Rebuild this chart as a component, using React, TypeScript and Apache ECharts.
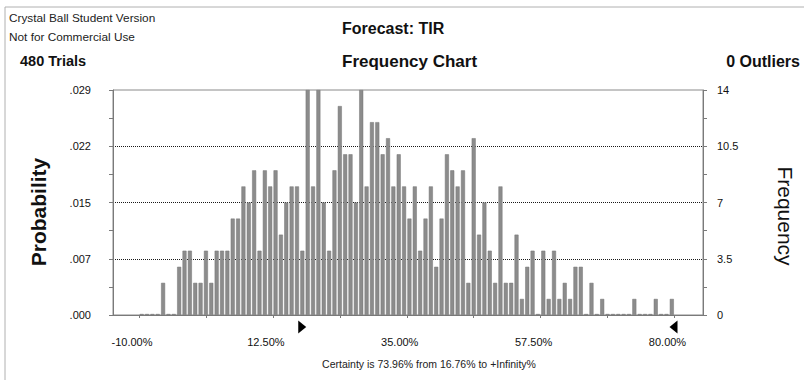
import React, { useEffect, useRef } from 'react';
import * as echarts from 'echarts';

// Histogram bins: 100 cells of 0.9% from -10% to 80%
const binStart = -10;
const binWidth = 0.9;
const counts = [
  0, 0, 0, 0, 2, 0, 0, 3, 4, 4,
  2, 2, 4, 2, 4, 4, 4, 6, 6, 8,
  7, 9, 4, 9, 8, 9, 5, 7, 8, 8,
  4, 14, 8, 14, 7, 4, 9, 13, 10, 10,
  7, 14, 8, 12, 12, 10, 11, 8, 10, 8,
  6, 8, 4, 6, 8, 3, 6, 10, 9, 8,
  9, 2, 11, 5, 7, 4, 2, 8, 2, 2,
  5, 1, 3, 4, 0, 4, 1, 4, 1, 2,
  1, 3, 3, 0, 2, 0, 1, 0, 0, 0,
  0, 0, 1, 0, 0, 0, 1, 0, 0, 1,
];

const xLabelValues = [-10, 12.5, 35, 57.5, 80];
const xTickLabels = ['-10.00%', '12.50%', '35.00%', '57.50%', '80.00%'];
const xTickValues = [-10, 1.25, 12.5, 23.75, 35, 46.25, 57.5, 68.75, 80];
const freqLabels = ['0', '3.5', '7', '10.5', '14'];
const probLabels = ['.000', '.007', '.015', '.022', '.029'];
const certaintyBounds = [16.76, 80];

const FONT = '"Liberation Sans", Arial, sans-serif';

export default function App() {
  const ref = useRef<HTMLDivElement>(null);
  useEffect(() => {
    document.body.style.margin = '0';
    const chart = echarts.init(ref.current!, undefined, { renderer: 'svg' });
    const barData = counts.map((c, j) => [binStart + binWidth * (j + 0.5), c]);
    const yLabel = (labels: string[]) => (v: number) => labels[Math.round(v / 3.5)] ?? '';
    const axisGray = '#7a7a7a';
    chart.setOption({
      animation: false,
      backgroundColor: '#ffffff',
      textStyle: { fontFamily: FONT },
      grid: {
        left: 113, top: 90, width: 590, height: 225,
        show: true, borderColor: '#8a8a8a', borderWidth: 1, backgroundColor: 'transparent',
      },
      xAxis: {
        type: 'value', min: -14.37, max: 84.79,
        axisLine: { show: true, onZero: false, lineStyle: { color: axisGray } },
        axisTick: { show: true, customValues: xTickValues, length: 3, lineStyle: { color: axisGray } },
        axisLabel: {
          customValues: xLabelValues, margin: 21, color: '#111', fontSize: 11, fontFamily: FONT,
          padding: [0, 14, 0, 0],
          formatter: (v: number) => xTickLabels[xLabelValues.indexOf(v)] ?? '',
        },
        splitLine: { show: false },
      },
      yAxis: [
        {
          type: 'value', min: 0, max: 14, interval: 3.5, position: 'left',
          axisLine: { show: true, onZero: false, lineStyle: { color: axisGray } },
          axisTick: { show: true, length: 4, lineStyle: { color: axisGray } },
          minorTick: { show: true, splitNumber: 2, length: 4, lineStyle: { color: axisGray } },
          axisLabel: { margin: 22, color: '#111', fontSize: 11, fontFamily: FONT, formatter: yLabel(probLabels) },
          splitLine: { show: true, showMinLine: false, showMaxLine: false, lineStyle: { color: '#1a1a1a', type: 'dotted', width: 1 } },
        },
        {
          type: 'value', min: 0, max: 14, interval: 3.5, position: 'right',
          axisLine: { show: true, onZero: false, lineStyle: { color: axisGray } },
          axisTick: { show: true, length: 4, lineStyle: { color: axisGray } },
          minorTick: { show: true, splitNumber: 2, length: 4, lineStyle: { color: axisGray } },
          axisLabel: { margin: 14, color: '#111', fontSize: 11, fontFamily: FONT, formatter: yLabel(freqLabels) },
          splitLine: { show: false },
        },
      ],
      series: [
        {
          type: 'bar', data: barData, barWidth: 4, barMinHeight: 1,
          itemStyle: { color: '#8c8c8c', borderColor: '#747474', borderWidth: 0.5 },
          markPoint: {
            silent: true,
            label: { show: false },
            data: [
              { coord: [certaintyBounds[0], 0], symbol: 'triangle', symbolSize: [13, 8], symbolRotate: -90, symbolOffset: [4, 12], itemStyle: { color: '#000' } },
              { coord: [certaintyBounds[1], 0], symbol: 'triangle', symbolSize: [13, 8], symbolRotate: 90, symbolOffset: [-1, 12], itemStyle: { color: '#000' } },
            ],
          },
        },
      ],
      graphic: [
        { type: 'line', shape: { x1: 5, y1: 7, x2: 804, y2: 7 }, style: { stroke: '#b0b0b0', lineWidth: 1 } },
        { type: 'line', shape: { x1: 5, y1: 7, x2: 5, y2: 380 }, style: { stroke: '#b0b0b0', lineWidth: 1 } },
        { type: 'text', x: 9, y: 18, style: { text: 'Crystal Ball Student Version', font: `11.8px ${FONT}`, fill: '#222', verticalAlign: 'middle' } },
        { type: 'text', x: 9, y: 37, style: { text: 'Not for Commercial Use', font: `11.8px ${FONT}`, fill: '#222', verticalAlign: 'middle' } },
        { type: 'text', x: 342, y: 28, style: { text: 'Forecast: TIR', font: `bold 16px ${FONT}`, fill: '#111', verticalAlign: 'middle' } },
        { type: 'text', x: 20, y: 61, style: { text: '480 Trials', font: `bold 14.5px ${FONT}`, fill: '#111', verticalAlign: 'middle' } },
        { type: 'text', x: 342, y: 61, style: { text: 'Frequency Chart', font: `bold 17px ${FONT}`, fill: '#111', verticalAlign: 'middle' } },
        { type: 'text', x: 800, y: 61, style: { text: '0 Outliers', font: `bold 16px ${FONT}`, fill: '#111', align: 'right', verticalAlign: 'middle' } },
        { type: 'text', x: 38, y: 212, rotation: Math.PI / 2, style: { text: 'Probability', font: `bold 21px ${FONT}`, fill: '#111', align: 'center', verticalAlign: 'middle' } },
        { type: 'text', x: 785, y: 216, rotation: -Math.PI / 2, style: { text: 'Frequency', font: `21px ${FONT}`, fill: '#111', align: 'center', verticalAlign: 'middle' } },
        { type: 'text', x: 429, y: 364, style: { text: 'Certainty is 73.96% from 16.76% to +Infinity%', font: `10.5px ${FONT}`, fill: '#222', align: 'center', verticalAlign: 'middle' } },
      ],
    });
    return () => chart.dispose();
  }, []);
  return <div ref={ref} style={{ width: 804, height: 380 }} />;
}
